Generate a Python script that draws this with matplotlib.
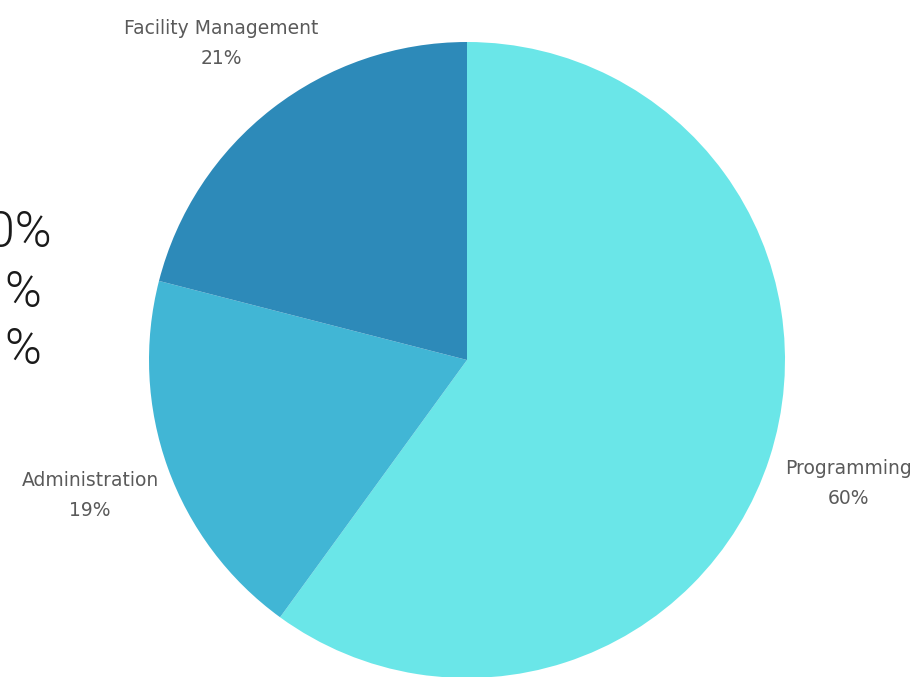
import matplotlib
matplotlib.use("Agg")
import matplotlib.pyplot as plt

categories = ["Programming", "Administration", "Facility Management"]
shares = [60, 19, 21]
colors = ["#6AE6E8", "#41B6D5", "#2D8AB9"]
side_text = ["0%", "%", "%"]

fig = plt.figure(figsize=(9.15, 6.77), dpi=100)
ax = fig.add_axes([149 / 915, -1 / 677, 636 / 915, 636 / 677])

labels = [f"{c}\n{s}%" for c, s in zip(categories, shares)]
wedges, texts = ax.pie(shares, labels=labels, colors=colors, startangle=90,
                       counterclock=False, labeldistance=1.26,
                       textprops=dict(color="#5a5a5a", fontsize=13.5,
                                      family=["Liberation Sans Narrow", "DejaVu Sans"]))
for t in texts:
    t.set_ha("center")
    t.set_va("center")
    t.set_linespacing(1.75)
    t.set_clip_on(False)
ax.set_xlim(-1, 1)
ax.set_ylim(-1, 1)
ax.set_aspect("equal")
ax.axis("off")

# leftover text, partly outside the left edge as in the slide
ys = [233, 293, 350]
rights = [52, 41, 41]
for s, y, r in zip(side_text, ys, rights):
    fig.text(r / 915, 1 - y / 677, s, ha="right", va="center", fontsize=36,
             fontweight=300, color="#1a1a1a", family=["Roboto", "DejaVu Sans"])

fig.savefig("out.png", dpi=100)
